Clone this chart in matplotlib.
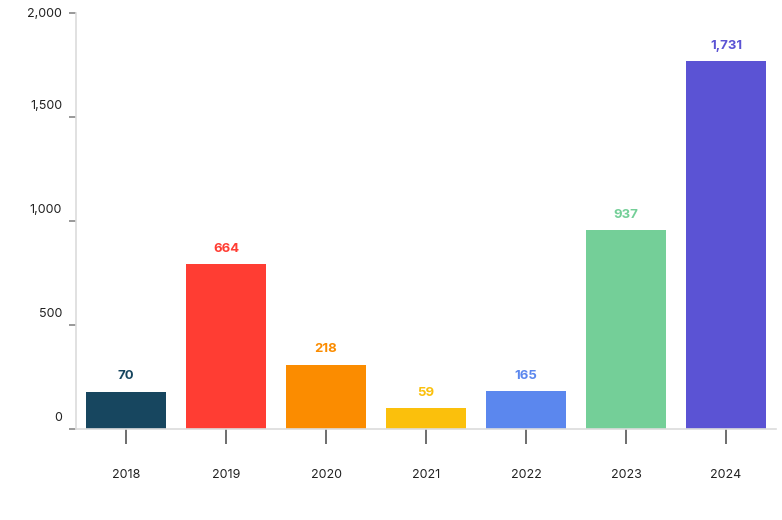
import matplotlib
matplotlib.use("Agg")
import matplotlib.pyplot as plt
import matplotlib.transforms as mtransforms

plt.rcParams["font.family"] = ["Inter", "DejaVu Sans"]

# data
years = ["2018", "2019", "2020", "2021", "2022", "2023", "2024"]
bar_heights = [179, 791, 307, 99, 181, 954, 1766]   # drawn bar height (axis units)
value_labels = [70, 664, 218, 59, 165, 937, 1731]   # numbers printed above bars
colors = ["#17465f", "#ff3d33", "#fb8c00", "#fbc00c", "#5b87ee", "#74cf98", "#5b53d4"]
y_ticks = [0, 500, 1000, 1500, 2000]

W, H = 782, 520
fig = plt.figure(figsize=(W / 100, H / 100), dpi=100)
ax = fig.add_axes([76 / W, (H - 429) / H, 700 / W, 416.3 / H])

x = range(len(years))
ax.bar(x, bar_heights, width=0.8, color=colors, zorder=2)
for xi, h, v, c in zip(x, bar_heights, value_labels, colors):
    ax.annotate(f"{v:,}", (xi, h), xytext=(0, 7), textcoords="offset points",
                ha="center", va="bottom", fontsize=9.5, fontweight="bold", color=c)

ax.set_xlim(-0.5, len(years) - 0.5)
ax.set_ylim(0, 2000)
ax.set_xticks(list(x))
ax.set_xticklabels(years)
ax.set_yticks(y_ticks)
ax.set_yticklabels([f"{t:,}" for t in y_ticks])

for s in ["top", "right"]:
    ax.spines[s].set_visible(False)
for s in ["left", "bottom"]:
    ax.spines[s].set_color("#dcdcdc")
    ax.spines[s].set_linewidth(1.2)

ax.tick_params(axis="x", length=11, width=1.2, color="#555555", pad=18,
               labelsize=9, labelcolor="#222222")
ax.tick_params(axis="y", length=5, width=1.2, color="#888888", pad=5,
               labelsize=9, labelcolor="#222222")

# y labels sit above their tick marks (the top one stays in view)
for t, lab in zip(y_ticks, ax.get_yticklabels()):
    dy = 0 if t == y_ticks[-1] else 12.5
    shift = mtransforms.ScaledTranslation(0, dy / 100, fig.dpi_scale_trans)
    lab.set_transform(lab.get_transform() + shift)

fig.savefig("out.png", dpi=100)
